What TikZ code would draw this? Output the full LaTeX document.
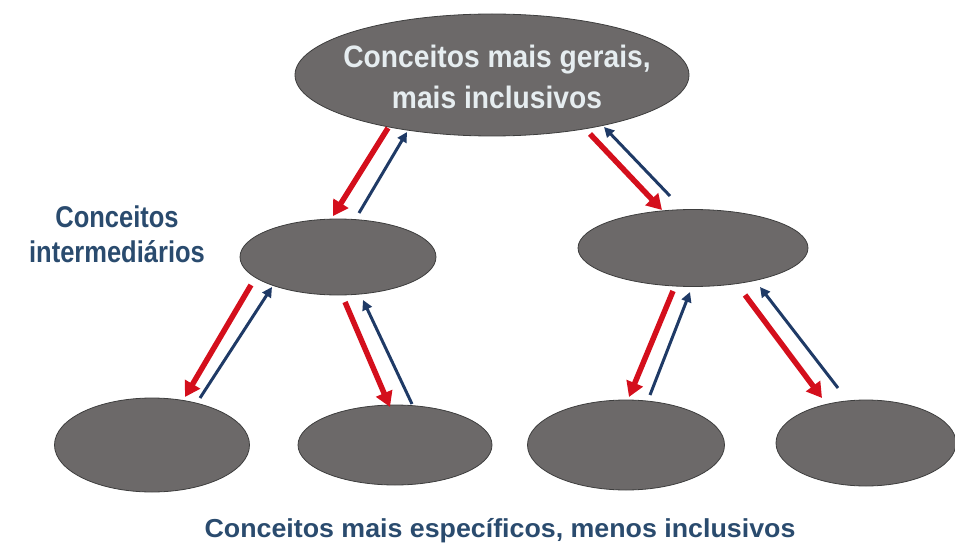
\documentclass[tikz,border=0pt]{standalone}
\usepackage{fontspec}
\setmainfont{Liberation Sans}
\newfontfamily\topbf[FakeStretch=0.91]{Liberation Sans Bold}
\newfontfamily\midbf[FakeStretch=0.85]{Liberation Sans Bold}
\newfontfamily\botbf[FakeStretch=1.03]{Liberation Sans Bold}
\usetikzlibrary{shapes.geometric,arrows.meta}
\definecolor{ellgray}{HTML}{6C6969}
\definecolor{ellline}{HTML}{3E3E3E}
\definecolor{arrred}{HTML}{D40F1C}
\definecolor{arrblue}{HTML}{1F3A66}
\definecolor{txtblue}{HTML}{2A4B6E}
\definecolor{txtlight}{HTML}{E6EDF0}
\tikzset{
  concept/.style={ellipse, draw=ellline, line width=0.8pt, fill=ellgray, inner sep=0pt},
  downarrow/.style={draw=arrred, line width=5.5pt, -{Triangle[length=15pt,width=17pt]}},
  uparrow/.style={draw=arrblue, line width=3pt, -{Triangle[length=10pt,width=10pt]}},
  label/.style={text=txtblue, align=center, inner sep=0pt},
}
\begin{document}
\begin{tikzpicture}[x=1pt,y=-1pt]
\useasboundingbox (0,0) rectangle (955,548);
% ellipses
\node[concept, minimum width=394pt, minimum height=122pt] (top) at (492,75) {};
\node[text=txtlight, align=center, inner sep=0pt,
      font=\topbf\fontsize{31}{41}\selectfont] (toptext) at (497,77) {Conceitos mais gerais,\\mais inclusivos};
\node[concept, minimum width=196pt, minimum height=76pt] (ml) at (338,257) {};
\node[concept, minimum width=230pt, minimum height=77pt] (mr) at (693,248) {};
\node[concept, minimum width=195pt, minimum height=94pt] (b1) at (152,445) {};
\node[concept, minimum width=194pt, minimum height=80pt] (b2) at (395,445) {};
\node[concept, minimum width=197pt, minimum height=90pt] (b3) at (626,445) {};
\node[concept, minimum width=180pt, minimum height=86pt] (b4) at (866,443) {};
% labels
\node[label, font=\midbf\fontsize{30}{35}\selectfont] (lmid) at (117,234) {Conceitos\\intermediários};
\node[label, anchor=base, font=\botbf\fontsize{26}{30}\selectfont] (lbot) at (500,537) {Conceitos mais específicos, menos inclusivos};
% arrow endpoints
\coordinate (r1s) at (388,128); \coordinate (r1e) at (333,216);
\coordinate (u1s) at (359,213); \coordinate (u1e) at (407,132);
\coordinate (r2s) at (590,134); \coordinate (r2e) at (662,210);
\coordinate (u2s) at (670,196); \coordinate (u2e) at (604,127);
\coordinate (r3s) at (251,285); \coordinate (r3e) at (185,397);
\coordinate (u3s) at (200,398); \coordinate (u3e) at (272,287);
\coordinate (r4s) at (345,302); \coordinate (r4e) at (390,407);
\coordinate (u4s) at (412,404); \coordinate (u4e) at (363,300);
\coordinate (r5s) at (673,291); \coordinate (r5e) at (629,397);
\coordinate (u5s) at (650,395); \coordinate (u5e) at (690,292);
\coordinate (r6s) at (745,295); \coordinate (r6e) at (822,398);
\coordinate (u6s) at (838,388); \coordinate (u6e) at (760,287);
\foreach \i in {1,...,6}{
  \draw[downarrow] (r\i s) -- (r\i e);
  \draw[uparrow] (u\i s) -- (u\i e);
}
\end{tikzpicture}
\end{document}
